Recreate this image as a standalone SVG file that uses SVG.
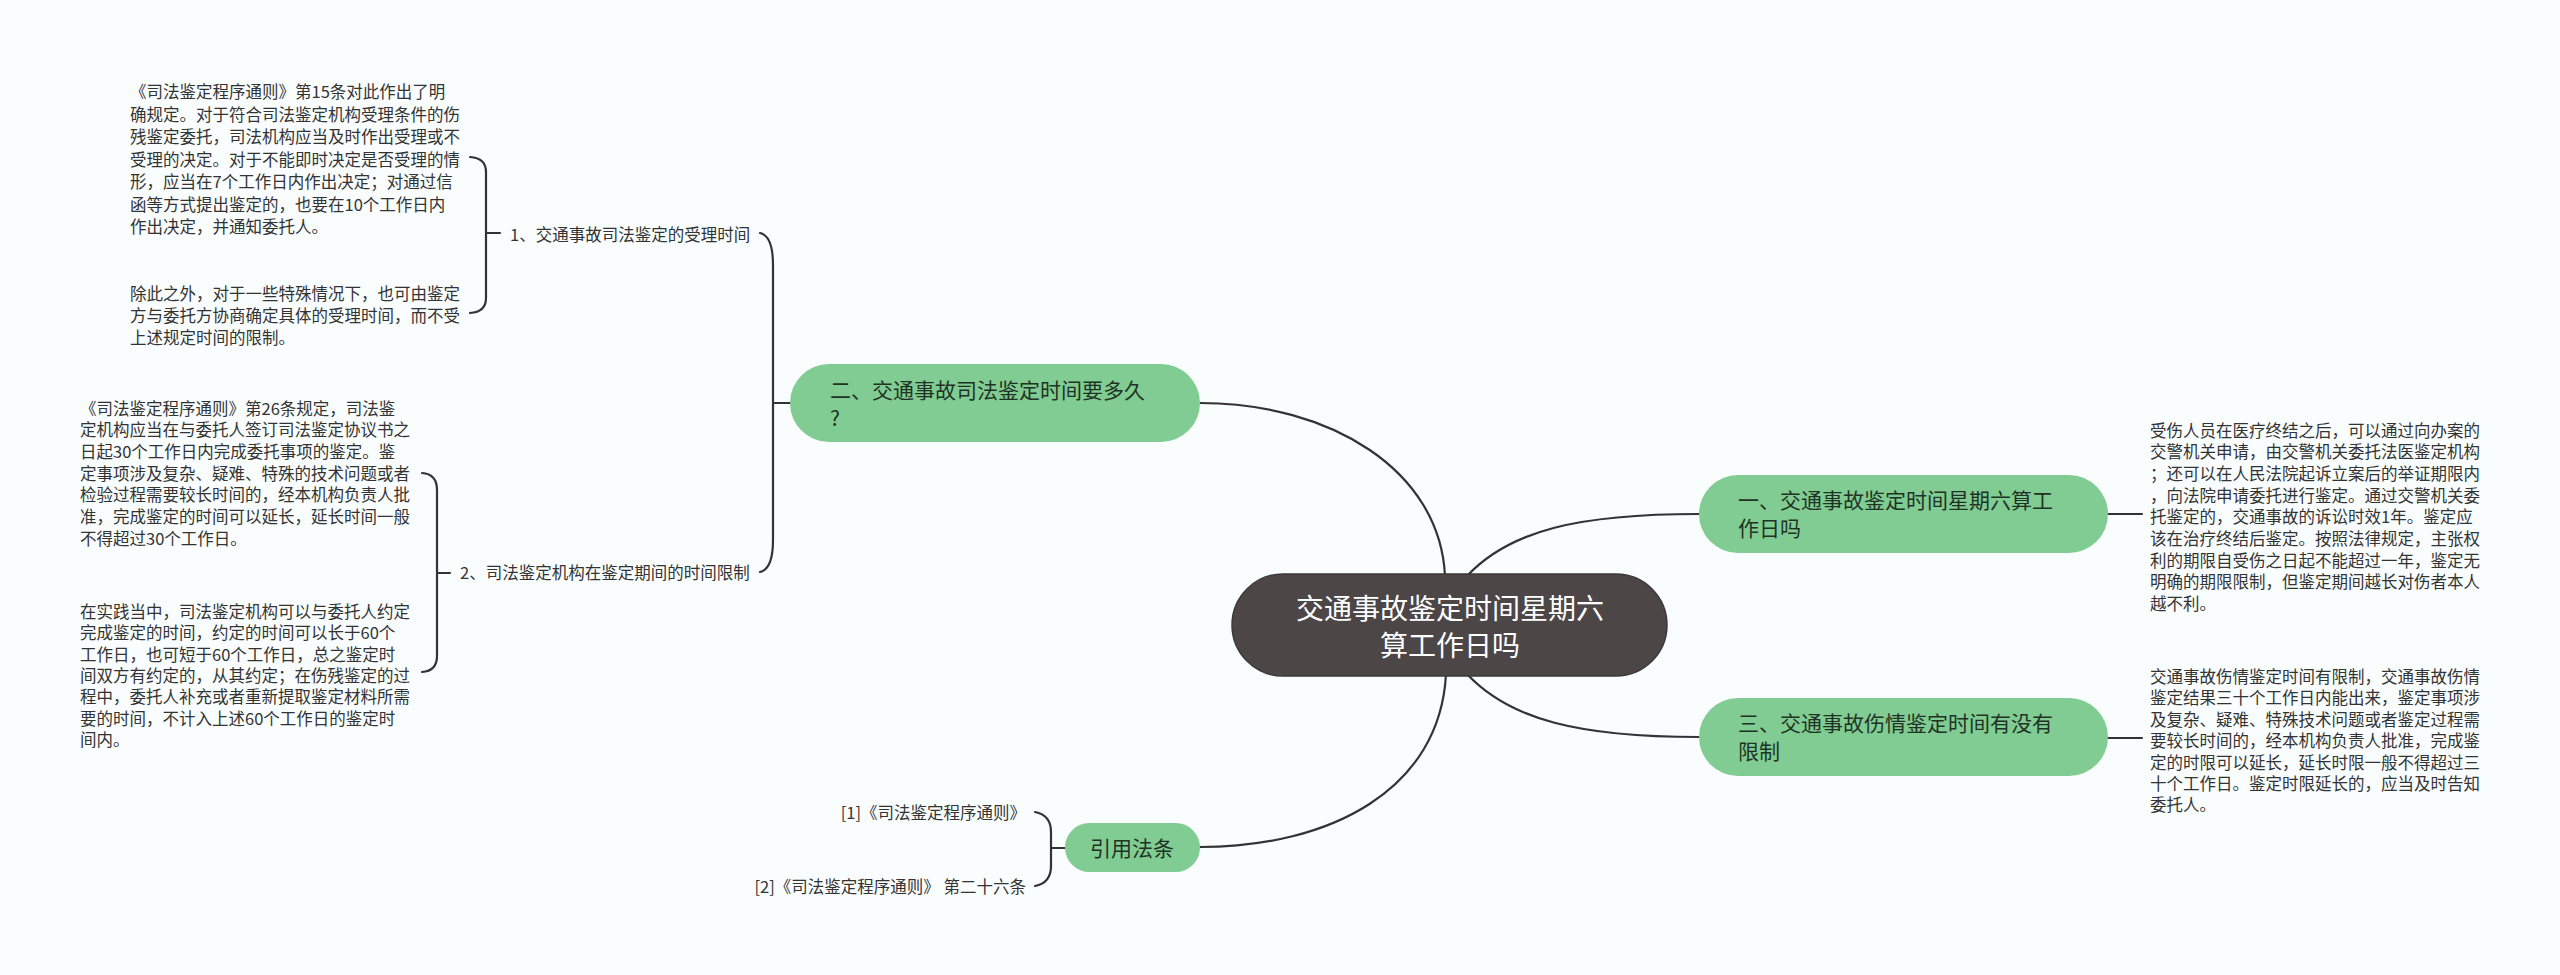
<svg xmlns="http://www.w3.org/2000/svg" width="2560" height="975" viewBox="0 0 2560 975">
<style>
text{font-family:"Noto Sans CJK SC","Noto Sans",sans-serif;}
.body{font-size:16.5px;fill:#333333;}
.lbl{font-size:16.5px;fill:#333333;}
.sub{font-size:21px;fill:#1f3325;}
.root{font-size:28px;fill:#ffffff;}
.green{fill:#80cc92;}
.ln{fill:none;stroke:#333333;stroke-width:2.2;stroke-linecap:round;}
</style>
<rect width="2560" height="975" fill="#f9fdfe"/>
<g id="connectors">
<path class="ln" d="M1445,576 C1440,470 1330,403 1200,403"/>
<path class="ln" d="M1467,576 C1510,530 1580,514 1699,514"/>
<path class="ln" d="M1467,674 C1510,720 1580,737 1699,737"/>
<path class="ln" d="M1446,674 C1440,790 1330,847 1200,847"/>
<path class="ln" d="M760,233 Q773,236 773,265 L773,540 Q773,569 760,572 M773,403 H790"/>
<path class="ln" d="M470,157 Q486,158 486,172 L486,298 Q486,312 470,313 M486,233 H500"/>
<path class="ln" d="M422,473 Q437,474 437,490 L437,656 Q437,671 422,672 M437,573 H450"/>
<path class="ln" d="M1035,812 Q1051,815 1051,832 L1051,866 Q1051,883 1035,886 M1051,848 H1065"/>
<path class="ln" d="M2108,514 H2142"/>
<path class="ln" d="M2108,738 H2142"/>
</g>
<g id="root">
<rect x="1232" y="574" width="435" height="102" rx="51" fill="#4c4647" stroke="#3d3839" stroke-width="1.5"/>
<text class="root" x="1450" y="619" text-anchor="middle"><tspan x="1450" dy="0">交通事故鉴定时间星期六</tspan><tspan x="1450" dy="37">算工作日吗</tspan></text>
</g>
<g id="node-er">
<rect class="green" x="790" y="364" width="410" height="78" rx="39"/>
<text class="sub" x="830" y="398"><tspan x="830" dy="0">二、交通事故司法鉴定时间要多久</tspan><tspan x="830" dy="28">?</tspan></text>
</g>
<g id="node-yi">
<rect class="green" x="1699" y="475" width="409" height="78" rx="39"/>
<text class="sub" x="1738" y="508"><tspan x="1738" dy="0">一、交通事故鉴定时间星期六算工</tspan><tspan x="1738" dy="28">作日吗</tspan></text>
</g>
<g id="node-san">
<rect class="green" x="1699" y="698" width="409" height="78" rx="39"/>
<text class="sub" x="1738" y="731"><tspan x="1738" dy="0">三、交通事故伤情鉴定时间有没有</tspan><tspan x="1738" dy="28">限制</tspan></text>
</g>
<g id="node-refs">
<rect class="green" x="1065" y="823" width="135" height="49" rx="24.5"/>
<text class="sub" x="1132" y="856" text-anchor="middle">引用法条</text>
</g>
<g id="ref1"><text class="lbl" x="1026" y="819" text-anchor="end">[1]《司法鉴定程序通则》</text></g>
<g id="ref2"><text class="lbl" x="1026" y="893" text-anchor="end">[2]《司法鉴定程序通则》 第二十六条</text></g>
<g id="label-1"><text class="lbl" x="510" y="241">1、交通事故司法鉴定的受理时间</text></g>
<g id="label-2"><text class="lbl" x="460" y="579">2、司法鉴定机构在鉴定期间的时间限制</text></g>
<g id="text-1a">
<text class="body" x="130" y="98">
<tspan x="130" dy="0">《司法鉴定程序通则》第15条对此作出了明</tspan>
<tspan x="130" dy="22.5">确规定。对于符合司法鉴定机构受理条件的伤</tspan>
<tspan x="130" dy="22.5">残鉴定委托，司法机构应当及时作出受理或不</tspan>
<tspan x="130" dy="22.5">受理的决定。对于不能即时决定是否受理的情</tspan>
<tspan x="130" dy="22.5">形，应当在7个工作日内作出决定；对通过信</tspan>
<tspan x="130" dy="22.5">函等方式提出鉴定的，也要在10个工作日内</tspan>
<tspan x="130" dy="22.5">作出决定，并通知委托人。</tspan>
</text>
</g>
<g id="text-1b">
<text class="body" x="130" y="299.5">
<tspan x="130" dy="0">除此之外，对于一些特殊情况下，也可由鉴定</tspan>
<tspan x="130" dy="22">方与委托方协商确定具体的受理时间，而不受</tspan>
<tspan x="130" dy="22">上述规定时间的限制。</tspan>
</text>
</g>
<g id="text-2a">
<text class="body" x="80" y="414.5">
<tspan x="80" dy="0">《司法鉴定程序通则》第26条规定，司法鉴</tspan>
<tspan x="80" dy="21.7">定机构应当在与委托人签订司法鉴定协议书之</tspan>
<tspan x="80" dy="21.7">日起30个工作日内完成委托事项的鉴定。鉴</tspan>
<tspan x="80" dy="21.7">定事项涉及复杂、疑难、特殊的技术问题或者</tspan>
<tspan x="80" dy="21.7">检验过程需要较长时间的，经本机构负责人批</tspan>
<tspan x="80" dy="21.7">准，完成鉴定的时间可以延长，延长时间一般</tspan>
<tspan x="80" dy="21.7">不得超过30个工作日。</tspan>
</text>
</g>
<g id="text-2b">
<text class="body" x="80" y="618">
<tspan x="80" dy="0">在实践当中，司法鉴定机构可以与委托人约定</tspan>
<tspan x="80" dy="21.3">完成鉴定的时间，约定的时间可以长于60个</tspan>
<tspan x="80" dy="21.3">工作日，也可短于60个工作日，总之鉴定时</tspan>
<tspan x="80" dy="21.3">间双方有约定的，从其约定；在伤残鉴定的过</tspan>
<tspan x="80" dy="21.3">程中，委托人补充或者重新提取鉴定材料所需</tspan>
<tspan x="80" dy="21.3">要的时间，不计入上述60个工作日的鉴定时</tspan>
<tspan x="80" dy="21.3">间内。</tspan>
</text>
</g>
<g id="text-yi">
<text class="body" x="2150" y="436.5">
<tspan x="2150" dy="0">受伤人员在医疗终结之后，可以通过向办案的</tspan>
<tspan x="2150" dy="21.7">交警机关申请，由交警机关委托法医鉴定机构</tspan>
<tspan x="2150" dy="21.7">；还可以在人民法院起诉立案后的举证期限内</tspan>
<tspan x="2150" dy="21.7">，向法院申请委托进行鉴定。通过交警机关委</tspan>
<tspan x="2150" dy="21.7">托鉴定的，交通事故的诉讼时效1年。鉴定应</tspan>
<tspan x="2150" dy="21.7">该在治疗终结后鉴定。按照法律规定，主张权</tspan>
<tspan x="2150" dy="21.7">利的期限自受伤之日起不能超过一年，鉴定无</tspan>
<tspan x="2150" dy="21.7">明确的期限限制，但鉴定期间越长对伤者本人</tspan>
<tspan x="2150" dy="21.7">越不利。</tspan>
</text>
</g>
<g id="text-san">
<text class="body" x="2150" y="683">
<tspan x="2150" dy="0">交通事故伤情鉴定时间有限制，交通事故伤情</tspan>
<tspan x="2150" dy="21.4">鉴定结果三十个工作日内能出来，鉴定事项涉</tspan>
<tspan x="2150" dy="21.4">及复杂、疑难、特殊技术问题或者鉴定过程需</tspan>
<tspan x="2150" dy="21.4">要较长时间的，经本机构负责人批准，完成鉴</tspan>
<tspan x="2150" dy="21.4">定的时限可以延长，延长时限一般不得超过三</tspan>
<tspan x="2150" dy="21.4">十个工作日。鉴定时限延长的，应当及时告知</tspan>
<tspan x="2150" dy="21.4">委托人。</tspan>
</text>
</g>
</svg>
